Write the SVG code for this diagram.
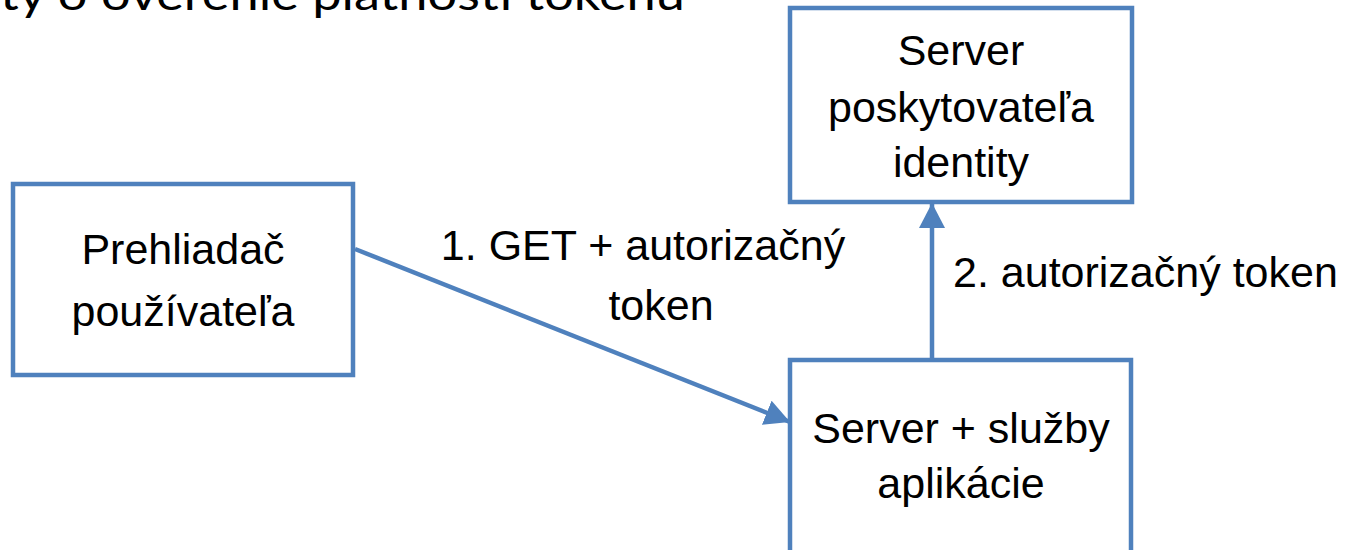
<svg xmlns="http://www.w3.org/2000/svg" width="1352" height="550" viewBox="0 0 1352 550">
<style>
.box{fill:#ffffff;stroke:#4F81BD;stroke-width:4.5}
.lbl{font-family:"Liberation Sans",Arial,sans-serif;font-size:43px;fill:#000000;text-anchor:middle}
.edge{stroke:#4F81BD;stroke-width:4.5;fill:none}
.title{font-family:Lato,"Liberation Sans",sans-serif;font-size:44px;fill:#000000}
</style>
<defs>
<marker id="arr" markerUnits="userSpaceOnUse" markerWidth="28" markerHeight="28" refX="25" refY="13" orient="auto">
<path d="M0,0 L25,13 L0,26 Z" fill="#4F81BD"/>
</marker>
</defs>
<rect width="1352" height="550" fill="#ffffff"/>
<text class="title" x="0" y="10" textLength="685" lengthAdjust="spacingAndGlyphs">ty o overenie platnosti tokenu</text>
<g id="browser">
<rect class="box" x="13" y="184" width="340" height="191"/>
<text class="lbl" x="183" y="264">Prehliadač</text>
<text class="lbl" x="183" y="326">používateľa</text>
</g>
<g id="idp">
<rect class="box" x="790" y="8" width="342" height="194"/>
<text class="lbl" x="961" y="65">Server</text>
<text class="lbl" x="961" y="122">poskytovateľa</text>
<text class="lbl" x="961" y="177">identity</text>
</g>
<g id="app">
<rect class="box" x="790" y="360" width="341" height="200"/>
<text class="lbl" x="961" y="443">Server + služby</text>
<text class="lbl" x="961" y="498">aplikácie</text>
</g>
<g id="connectors">
<line class="edge" x1="355" y1="249" x2="790" y2="422" marker-end="url(#arr)"/>
<text class="lbl" x="643" y="260">1. GET + autorizačný</text>
<text class="lbl" x="661" y="320">token</text>
<line class="edge" x1="932" y1="360" x2="932" y2="203" marker-end="url(#arr)"/>
<text class="lbl" x="953" y="287" style="text-anchor:start">2. autorizačný token</text>
</g>
</svg>
